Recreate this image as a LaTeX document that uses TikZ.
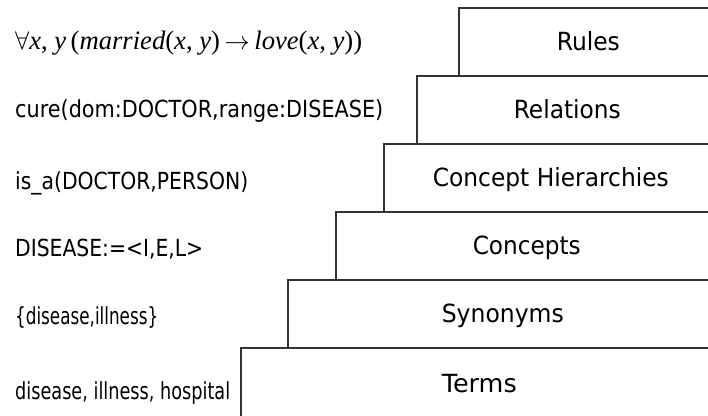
\documentclass[tikz,border=0pt]{standalone}
\usepackage{fontspec}
\usepackage{graphicx}
\newfontfamily\tah{DejaVu Sans}
\newfontfamily\tms{Liberation Serif}
\newcommand\fitw[2]{\resizebox{#1}{\height}{#2}}
\begin{document}
\begin{tikzpicture}[x=1pt,y=-1pt,
  layer/.style={draw=black!80, line width=1.6pt, anchor=north west, inner sep=0pt,
    minimum height=68pt, text height=18pt, text depth=0pt, align=center,
    font=\tah\fontsize{25}{29}\selectfont},
  lefttext/.style={anchor=base west, inner sep=0pt, font=\tah\fontsize{23.5}{27}\selectfont}]
\useasboundingbox (0,0) rectangle (708,415);
\fill[white] (0,0) rectangle (708,415);
\begin{scope}
\clip (0,0) rectangle (708,415);
\node[layer, minimum width=259pt] (rules) at (458,7) {\fitw{63pt}{Rules}};
\node[layer, minimum width=301pt] (relations) at (416,75) {\fitw{107pt}{Relations}};
\node[layer, minimum width=334pt] (hier) at (383,143) {\fitw{236pt}{Concept Hierarchies}};
\node[layer, minimum width=382pt] (concepts) at (335,211) {\fitw{108pt}{Concepts}};
\node[layer, minimum width=430pt] (synonyms) at (287,279) {\fitw{122pt}{Synonyms}};
\node[layer, minimum width=477pt, minimum height=72pt] (terms) at (240,347) {\fitw{75pt}{Terms}};
\end{scope}
\node[anchor=base west, inner sep=0pt, font=\tms\fontsize{26}{30}\selectfont] (rulex) at (15,49)
  {\resizebox{347pt}{!}{$\forall$\textit{x}, \textit{y}\,(\textit{married}(\textit{x}, \textit{y})\,$\rightarrow$\,\textit{love}(\textit{x}, \textit{y}))}};
\node[lefttext] (relex) at (15,117) {\fitw{368pt}{cure(dom:DOCTOR,range:DISEASE)}};
\node[lefttext] (hierex) at (15,189) {\fitw{233pt}{is\_a(DOCTOR,PERSON)}};
\node[lefttext] (conex) at (15,256) {\fitw{188pt}{DISEASE:=<I,E,L>}};
\node[lefttext] (synex) at (15,324) {\fitw{143pt}{\{disease,illness\}}};
\node[lefttext] (termex) at (15,399) {\fitw{215pt}{disease, illness, hospital}};
\end{tikzpicture}
\end{document}
